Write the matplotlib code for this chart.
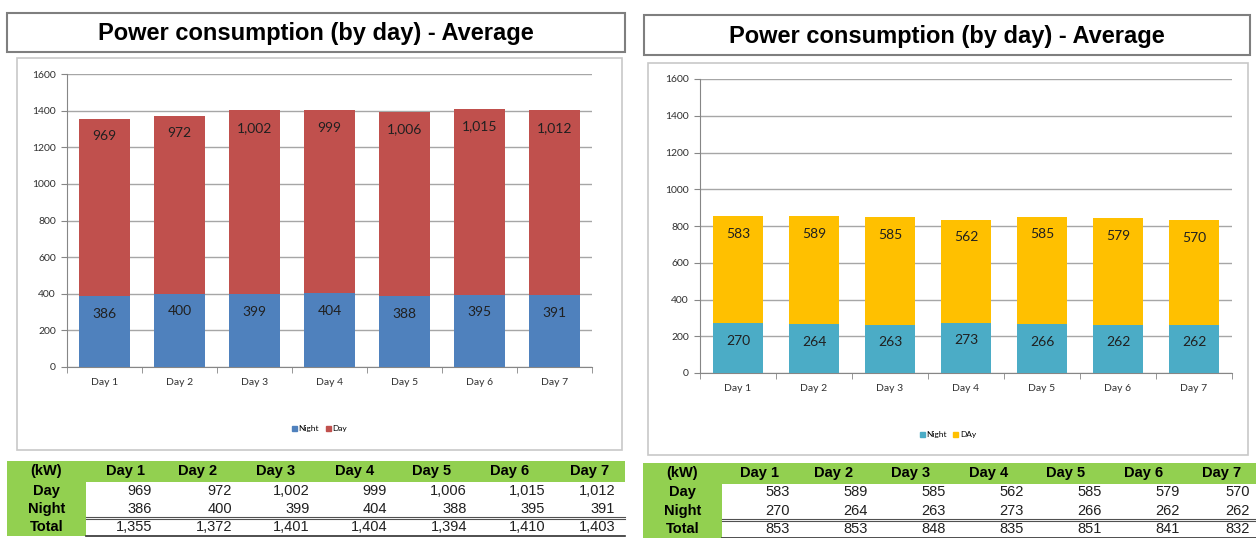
import matplotlib
matplotlib.use('Agg')
import matplotlib.pyplot as plt
from matplotlib.patches import Rectangle, Patch
from matplotlib.lines import Line2D

days = ['Day 1', 'Day 2', 'Day 3', 'Day 4', 'Day 5', 'Day 6', 'Day 7']
left_day = [969, 972, 1002, 999, 1006, 1015, 1012]
left_night = [386, 400, 399, 404, 388, 395, 391]
left_total = [1355, 1372, 1401, 1404, 1394, 1410, 1403]
right_day = [583, 589, 585, 562, 585, 579, 570]
right_night = [270, 264, 263, 273, 266, 262, 262]
right_total = [853, 853, 848, 835, 851, 841, 832]
yticks = [0, 200, 400, 600, 800, 1000, 1200, 1400, 1600]

W, H = 1256, 538
title_font = ['Liberation Sans', 'DejaVu Sans']
table_font = ['Liberation Sans Narrow', 'Liberation Sans', 'DejaVu Sans']
chart_font = ['Lato', 'DejaVu Sans']


def fx(x):
    return x / W


def fy(y):
    return 1 - y / H


def box(fig, x0, y0, x1, y1, **kw):
    r = Rectangle((fx(x0), fy(y1)), fx(x1) - fx(x0), fy(y0) - fy(y1),
                  transform=fig.transFigure, **kw)
    fig.patches.append(r)


def hline(fig, x0, x1, y, color='#404040', lw=1.0):
    fig.lines.append(Line2D([fx(x0), fx(x1)], [fy(y), fy(y)], transform=fig.transFigure,
                            color=color, lw=lw))


def fmt(v):
    return f'{v:,}'


def draw_panel(fig, title_box, frame, axbox, night, day, totals, c_night, c_day, day_name,
               legend_y, table):
    # title box
    x0, y0, x1, y1 = title_box
    box(fig, x0, y0, x1, y1, facecolor='white', edgecolor='#7f7f7f', lw=1.5, zorder=-5)
    fig.text(fx((x0 + x1) / 2), fy((y0 + y1) / 2 + 1), 'Power consumption (by day) - Average',
             ha='center', va='center', fontsize=17, fontweight='bold', family=title_font)

    # chart frame
    x0, y0, x1, y1 = frame
    box(fig, x0, y0, x1, y1, facecolor='white', edgecolor='#c8c8c8', lw=1.2, zorder=-5)

    ax0, ay0, ax1, ay1 = axbox
    ax = fig.add_axes([fx(ax0), fy(ay1), fx(ax1) - fx(ax0), fy(ay0) - fy(ay1)])
    ax.set_facecolor('none')
    x = list(range(len(days)))
    b1 = ax.bar(x, night, width=0.67, color=c_night, label='Night', zorder=3)
    b2 = ax.bar(x, day, width=0.67, bottom=night, color=c_day, label=day_name, zorder=3)
    for cont, vals in ((b1, night), (b2, day)):
        ax.bar_label(cont, labels=[fmt(v) for v in vals], padding=-17, fontsize=10,
                     color='#202020', family=chart_font)
    ax.set_ylim(0, 1600)
    ax.set_xlim(-0.5, len(days) - 0.5)
    ax.set_yticks(yticks)
    ax.set_yticklabels([str(v) for v in yticks], fontsize=7.5, family=chart_font, color='#303030')
    ax.set_xticks(x)
    ax.set_xticklabels(days, fontsize=7.5, family=chart_font, color='#303030')
    ax.tick_params(axis='x', length=0, pad=8)
    ax.set_xticks([i - 0.5 for i in range(len(days) + 1)], minor=True)
    ax.tick_params(axis='x', which='minor', length=4, color='#868686', direction='out')
    ax.tick_params(axis='y', length=4, color='#868686', direction='out', pad=4)
    ax.grid(axis='y', color='#a6a6a6', lw=1, zorder=0)
    for s in ('top', 'right'):
        ax.spines[s].set_visible(False)
    for s in ('left', 'bottom'):
        ax.spines[s].set_color('#868686')
    handles = [Patch(color=c_night, label='Night'), Patch(color=c_day, label=day_name)]
    ax.legend(handles=handles, loc='center', ncol=2, frameon=False,
              bbox_to_anchor=(fx((frame[0] + frame[2]) / 2), fy(legend_y)),
              bbox_transform=fig.transFigure, handlelength=0.6, handleheight=0.6,
              handletextpad=0.2, columnspacing=0.8, prop={'family': chart_font, 'size': 6})

    # table under chart
    tx0, tx1, lab_w, head_y0, head_y1, row_ys, head_cx, num_rx, sep_y, bot_y = table
    box(fig, tx0, head_y0, tx1, head_y1, facecolor='#92d050', edgecolor='none', zorder=-5)
    box(fig, tx0, head_y1, tx0 + lab_w, bot_y, facecolor='#92d050', edgecolor='none', zorder=-5)
    hy = (head_y0 + head_y1) / 2
    fig.text(fx(tx0 + lab_w / 2), fy(hy), '(kW)', ha='center', va='center', fontsize=10.5,
             fontweight='bold', family=table_font)
    for cx, d in zip(head_cx, days):
        fig.text(fx(cx), fy(hy), d, ha='center', va='center', fontsize=10.5,
                 fontweight='bold', family=table_font)
    for ry, name, vals in zip(row_ys, ['Day', 'Night', 'Total'], [day, night, totals]):
        fig.text(fx(tx0 + lab_w / 2), fy(ry), name, ha='center', va='center', fontsize=10.5,
                 fontweight='bold', family=table_font)
        for rx, v in zip(num_rx, vals):
            fig.text(fx(rx), fy(ry), fmt(v), ha='right', va='center', fontsize=10.5,
                     family=table_font, color='#202020')
    hline(fig, tx0 + lab_w, tx1, sep_y - 1, color='#505050', lw=0.8)
    hline(fig, tx0 + lab_w, tx1, sep_y + 1, color='#505050', lw=0.8)
    hline(fig, tx0 + lab_w, tx1, bot_y, color='#303030', lw=1.2)


fig = plt.figure(figsize=(W / 100, H / 100), dpi=100)

draw_panel(fig, (7, 13, 625, 52), (17, 58, 622, 450), (67, 74, 592, 367),
           left_night, left_day, left_total, '#4f81bd', '#c0504d', 'Day', 429,
           (7, 625, 79, 461, 482, [491, 509, 527],
            [125, 198, 276, 355, 432, 510, 590],
            [152, 232, 310, 387, 467, 545, 615], 518, 536))

draw_panel(fig, (644, 15, 1250, 55), (648, 63, 1248, 455), (700, 79, 1232, 373),
           right_night, right_day, right_total, '#4bacc6', '#ffc000', 'DAy', 435,
           (643, 1256, 79, 463, 484, [492, 511, 529],
            [760, 834, 911, 989, 1066, 1144, 1222],
            [790, 868, 946, 1024, 1102, 1180, 1250], 520, 538))

fig.savefig('out.png', dpi=100)
